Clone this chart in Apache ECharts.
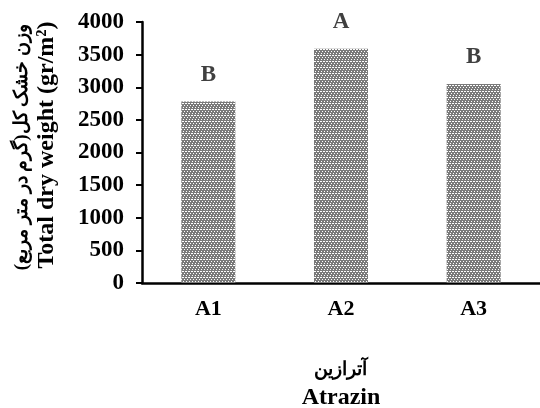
<!DOCTYPE html>
<html><head><meta charset="utf-8">
<script src="https://cdn.jsdelivr.net/npm/echarts@6/dist/echarts.min.js"></script>
<style>html,body{margin:0;padding:0;background:#fff}#c{width:540px;height:408px}</style>
</head><body><div id="c"></div>
<script>
var categories = ['A1','A2','A3'];
var values = [2780, 3590, 3050];
var letters = ['B','A','B'];
var yTicks = [0,500,1000,1500,2000,2500,3000,3500,4000];
var yTitleFa = 'وزن خشک کل(گرم در متر مربع)';
var yTitleEn = 'Total dry weight (gr/m²)';
var xTitleFa = 'آترازین';
var xTitleEn = 'Atrazin';

var FONT = '"Liberation Serif", "DejaVu Serif", serif';
var tile = document.createElement('canvas');
tile.width = 6; tile.height = 6;
var g = tile.getContext('2d');
g.fillStyle = '#ffffff'; g.fillRect(0,0,6,6);
g.fillStyle = '#7a7a7a';
var pat = [[1,1,1,1,1,1],[0,1,0,0,1,0],[1,1,1,1,1,1],[1,0,1,1,0,1],[1,1,1,1,1,1],[0,1,1,0,1,1]];
for (var r=0;r<pat.length;r++) for (var c=0;c<pat[r].length;c++) if (pat[r][c]) g.fillRect(c,r,1,1);

var chart = echarts.init(document.getElementById('c'), null, {renderer:'canvas'});
chart.setOption({
  animation:false,
  grid:{left:142, right:-4, top:22, bottom:125, containLabel:false},
  xAxis:{type:'category', data:categories,
    axisLine:{lineStyle:{color:'#000', width:2.5}},
    axisTick:{show:false},
    axisLabel:{fontFamily:FONT, fontWeight:'bold', fontSize:22, color:'#000', margin:15}
  },
  yAxis:{type:'value', min:yTicks[0], max:yTicks[yTicks.length-1], interval:500,
    splitLine:{show:false},
    axisLine:{show:true, lineStyle:{color:'#000', width:2.5}},
    axisTick:{show:true, length:6, lineStyle:{color:'#000', width:2}},
    axisLabel:{fontFamily:FONT, fontWeight:'bold', fontSize:23, color:'#000', margin:18,
      formatter:function(v){return String(v);}}
  },
  series:[{type:'bar', data:values, barWidth:54,
    itemStyle:{color:{image:tile, repeat:'repeat'}},
    label:{show:true, position:'top', distance:15, fontFamily:FONT, fontWeight:'bold', fontSize:23, color:'#404040',
      formatter:function(p){return letters[p.dataIndex];}}
  }],
  graphic:[
    {type:'text', x:22, y:147, rotation:Math.PI/2, style:{text:yTitleFa, font:'bold 19px '+FONT, fill:'#000', align:'center', verticalAlign:'middle'}},
    {type:'text', x:47, y:145, rotation:Math.PI/2, style:{text:yTitleEn, font:'bold 24px '+FONT, fill:'#000', align:'center', verticalAlign:'middle'}},
    {type:'text', x:340, y:370, style:{text:xTitleFa, font:'bold 19px '+FONT, fill:'#000', align:'center', verticalAlign:'middle'}},
    {type:'text', x:341, y:398, style:{text:xTitleEn, font:'bold 24px '+FONT, fill:'#000', align:'center', verticalAlign:'middle'}}
  ]
});
</script></body></html>
